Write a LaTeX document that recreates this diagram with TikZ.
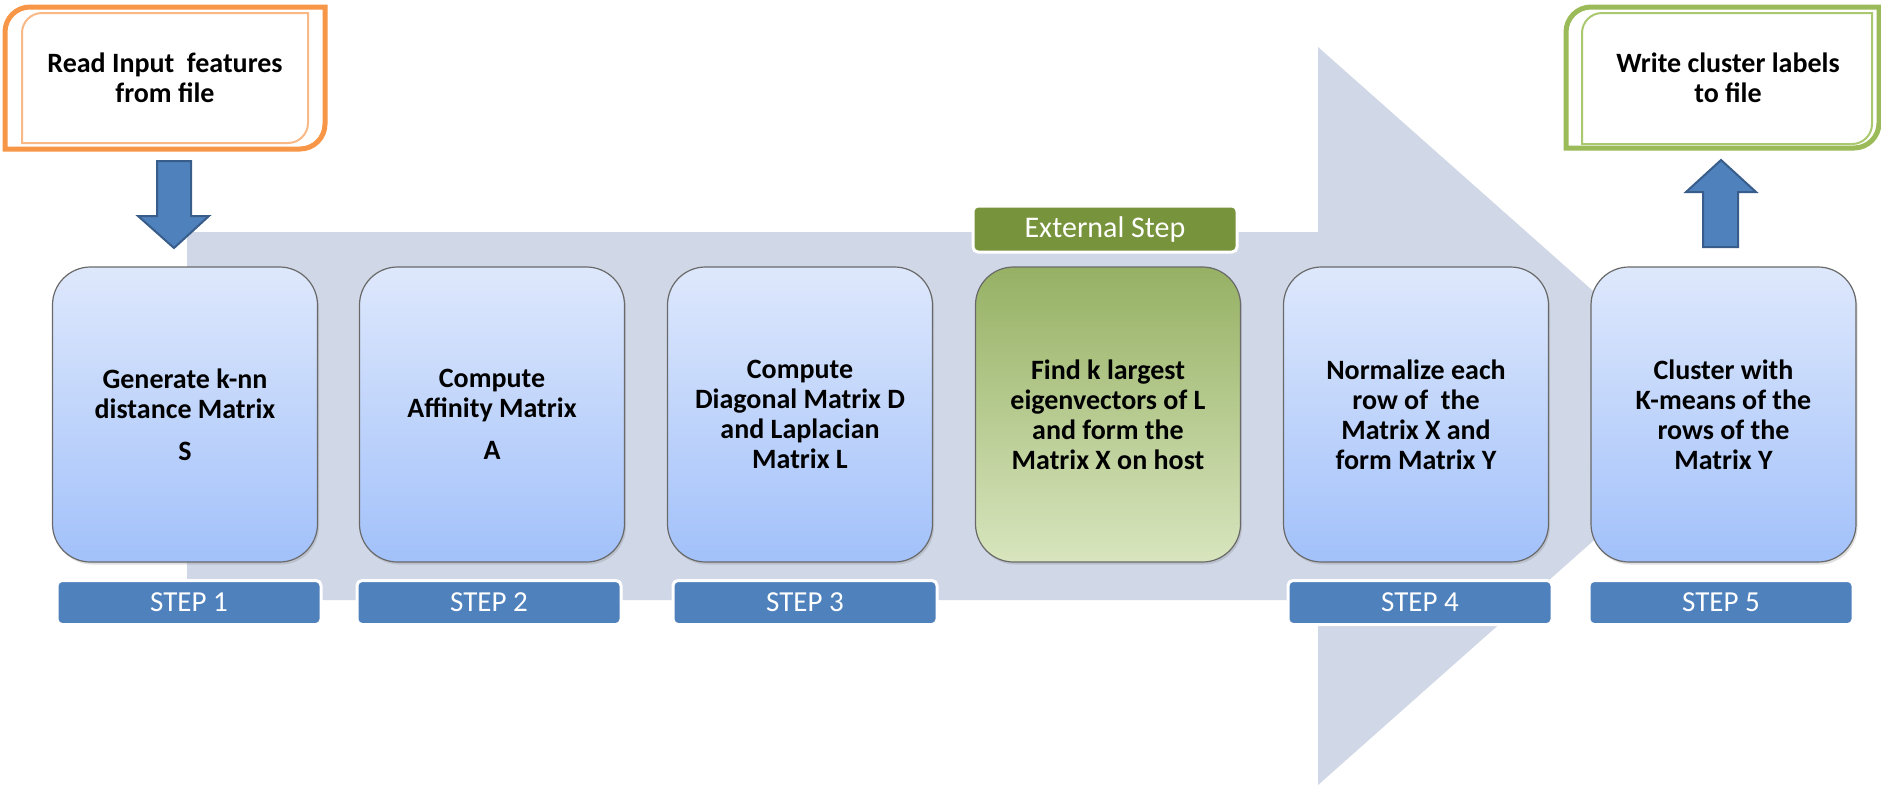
\documentclass[tikz,border=0pt]{standalone}
\usepackage{fontspec}
\setmainfont{Carlito}
\usetikzlibrary{shadows}
\definecolor{arrowgray}{RGB}{208,215,230}
\definecolor{boxtop}{RGB}{222,232,252}
\definecolor{boxbot}{RGB}{162,193,250}
\definecolor{greentop}{RGB}{150,177,100}
\definecolor{greenbot}{RGB}{216,229,190}
\definecolor{boxline}{RGB}{105,105,105}
\definecolor{stepblue}{RGB}{79,129,189}
\definecolor{stepedge}{RGB}{56,93,138}
\definecolor{extgreen}{RGB}{119,147,60}
\definecolor{orangeline}{RGB}{247,150,70}
\definecolor{orangein}{RGB}{249,185,135}
\definecolor{greenline}{RGB}{155,187,89}
\definecolor{greenin}{RGB}{170,200,110}
\begin{document}
\begin{tikzpicture}[x=1pt,y=-1pt,
  procbox/.style={draw=boxline, line width=1.2pt, rounded corners=38pt,
    minimum width=265pt, minimum height=295pt, top color=boxtop, bottom color=boxbot,
    align=center, font=\fontsize{28}{30}\selectfont\bfseries, inner sep=0pt,
    drop shadow={opacity=0.25, shadow xshift=1.5pt, shadow yshift=-2.5pt}},
  extbox/.style={procbox, top color=greentop, bottom color=greenbot},
  steplabel/.style={draw=white, line width=3pt, fill=stepblue, rounded corners=5pt,
    minimum width=264pt, minimum height=44pt, text=white,
    font=\fontsize{29}{30}\selectfont, inner sep=0pt},
  extlabel/.style={steplabel, fill=extgreen},
  framelabel/.style={align=center, font=\fontsize{28}{30}\selectfont\bfseries},
  blockarrow/.style={fill=stepblue, draw=stepedge, line width=2pt, line join=miter}
]
\useasboundingbox (0,0) rectangle (1881,785);
\fill[white] (0,0) rectangle (1881,785);

% big background arrow
\fill[arrowgray] (187,232) -- (1318,232) -- (1318,47) -- (1734,416)
  -- (1318,785) -- (1318,600) -- (187,600) -- cycle;

% process boxes
\node[procbox] (b1) at (185,414.5) {Generate k-nn\\distance Matrix\\[12pt]S};
\node[procbox] (b2) at (492,414.5) {Compute\\Affinity Matrix\\[12pt]A};
\node[procbox] (b3) at (800,414.5) {Compute\\Diagonal Matrix D\\and Laplacian\\Matrix L};
\node[extbox]  (b4) at (1108,414.5) {Find k largest\\eigenvectors of L\\and form the\\Matrix X on host};
\node[procbox] (b5) at (1416,414.5) {Normalize each\\row of~ the\\Matrix X and\\form Matrix Y};
\node[procbox] (b6) at (1723.5,414.5) {Cluster with\\K-means of the\\rows of the\\Matrix Y};

% step labels
\node[steplabel] (s1) at (189,602.5) {STEP 1};
\node[steplabel] (s2) at (489,602.5) {STEP 2};
\node[steplabel] (s3) at (805,602.5) {STEP 3};
\node[steplabel] (s4) at (1420,602.5) {STEP 4};
\node[steplabel] (s5) at (1721,602.5) {STEP 5};
\node[extlabel, minimum height=46pt, font=\fontsize{30}{30}\selectfont] (ext) at (1105,229) {External Step};

% input frame (orange)
\draw[orangeline, line width=5pt]
  (5,32) arc (180:270:25) -- (325,7) -- (325,124) arc (0:90:25) -- (5,149) -- cycle;
\draw[orangein, line width=2pt]
  (22,33) arc (180:270:20) -- (308,13) -- (308,123) arc (0:90:20) -- (22,143) -- cycle;
\node[framelabel] (read) at (165,78) {Read Input~ features\\from file};

% output frame (green)
\draw[greenline, line width=5pt]
  (1566,32) arc (180:270:25) -- (1879,7) -- (1879,123) arc (0:90:25) -- (1566,148) -- cycle;
\draw[greenin, line width=2pt]
  (1582,33) arc (180:270:20) -- (1872,13) -- (1872,124) arc (0:90:20) -- (1582,144) -- cycle;
\node[framelabel] (write) at (1728,78) {Write cluster labels\\to file};

% block arrows
\coordinate (din) at (174,161);
\draw[blockarrow] (din) ++(-17,0) -- ++(34,0) -- ++(0,55) -- ++(18,0)
  -- (174,248) -- (138,216) -- (157,216) -- cycle;
\coordinate (dout) at (1721,247);
\draw[blockarrow] (dout) ++(-18,0) -- ++(35,0) -- ++(0,-55) -- ++(18,0)
  -- (1721,160) -- (1686,192) -- (1703,192) -- cycle;
\end{tikzpicture}
\end{document}
